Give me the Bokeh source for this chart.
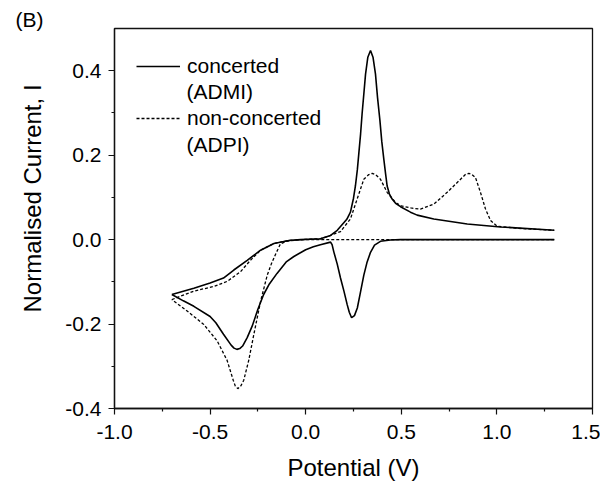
from bokeh.plotting import figure
from bokeh.models import Range1d, Label, Legend, LegendItem, FixedTicker, NumeralTickFormatter, Title
from bokeh.embed import file_html
from bokeh.resources import INLINE

# ---------------- data ----------------
x_ticks = [-1.0, -0.5, 0.0, 0.5, 1.0, 1.5]
x_minor = [-0.75, -0.25, 0.25, 0.75, 1.25]
y_ticks = [-0.4, -0.2, 0.0, 0.2, 0.4]
y_minor = [-0.3, -0.1, 0.1, 0.3]

series_names = ["concerted", "non-concerted"]
series_subnames = ["(ADMI)", "(ADPI)"]

# concerted (ADMI) – forward scan (-0.7 V -> 1.3 V)
concerted_fwd_potential = [
    -0.70, -0.585, -0.50, -0.43, -0.376, -0.306, -0.236, -0.166, -0.088, -0.027,
    0.077, 0.13, 0.165, 0.19, 0.215, 0.234, 0.25, 0.260, 0.27, 0.278,
    0.287, 0.295, 0.304, 0.313, 0.325, 0.339, 0.352, 0.365, 0.376, 0.388,
    0.398, 0.409, 0.418, 0.426, 0.438, 0.452, 0.47, 0.496, 0.548, 0.583,
    0.670, 0.845, 1.019, 1.30,
]
concerted_fwd_current = [
    -0.130, -0.115, -0.103, -0.091, -0.072, -0.049, -0.025, -0.009, -0.002, 0.0,
    0.002, 0.010, 0.022, 0.035, 0.048, 0.065, 0.098, 0.127, 0.165, 0.205,
    0.250, 0.298, 0.345, 0.392, 0.432, 0.448, 0.432, 0.392, 0.335, 0.283,
    0.232, 0.189, 0.155, 0.127, 0.108, 0.096, 0.086, 0.078, 0.065, 0.058,
    0.049, 0.037, 0.030, 0.022,
]
# concerted (ADMI) – reverse scan (1.3 V -> -0.7 V)
concerted_rev_potential = [
    1.30, 0.80, 0.496, 0.443, 0.391, 0.36, 0.339, 0.32, 0.304, 0.285,
    0.270, 0.255, 0.240, 0.228, 0.217, 0.20, 0.182, 0.165, 0.147, 0.138,
    0.130, 0.077, 0.04, 0.0, -0.062, -0.10, -0.15, -0.19, -0.22, -0.25,
    -0.28, -0.306, -0.33, -0.345, -0.36, -0.375, -0.39, -0.43, -0.47, -0.50,
    -0.585, -0.64, -0.70,
]
concerted_rev_current = [
    0.0, 0.0, 0.0, -0.001, -0.004, -0.013, -0.030, -0.055, -0.084, -0.128,
    -0.162, -0.180, -0.185, -0.172, -0.154, -0.122, -0.091, -0.058, -0.029, -0.012,
    -0.006, -0.012, -0.017, -0.024, -0.040, -0.052, -0.080, -0.105, -0.130, -0.165,
    -0.205, -0.232, -0.252, -0.258, -0.260, -0.257, -0.250, -0.224, -0.197, -0.182,
    -0.158, -0.145, -0.130,
]

# non-concerted (ADPI) – forward scan
nonconcerted_fwd_potential = [
    -0.70, -0.585, -0.481, -0.411, -0.341, -0.289, -0.236, -0.166, -0.088, -0.027,
    0.077, 0.13, 0.182, 0.234, 0.269, 0.304, 0.33, 0.348, 0.365, 0.391,
    0.426, 0.470, 0.50, 0.55, 0.60, 0.67, 0.74, 0.81, 0.835, 0.853,
    0.87, 0.888, 0.914, 0.94, 0.967, 1.0, 1.1, 1.3,
]
nonconcerted_fwd_current = [
    -0.142, -0.122, -0.111, -0.099, -0.076, -0.049, -0.025, -0.009, -0.002, 0.0,
    0.002, 0.010, 0.019, 0.049, 0.096, 0.143, 0.154, 0.157, 0.154, 0.143,
    0.112, 0.088, 0.080, 0.075, 0.072, 0.084, 0.112, 0.143, 0.154, 0.157,
    0.154, 0.147, 0.112, 0.073, 0.045, 0.032, 0.027, 0.022,
]
# non-concerted (ADPI) – reverse scan
nonconcerted_rev_potential = [
    1.3, 0.5, 0.0, -0.05, -0.10, -0.132, -0.158, -0.18, -0.201, -0.236,
    -0.271, -0.298, -0.324, -0.34, -0.355, -0.368, -0.379, -0.411, -0.463, -0.533,
    -0.620, -0.70,
]
nonconcerted_rev_current = [
    0.0, 0.0, 0.0, -0.001, -0.004, -0.010, -0.035, -0.058, -0.084, -0.146,
    -0.224, -0.286, -0.333, -0.347, -0.353, -0.347, -0.333, -0.286, -0.240, -0.201,
    -0.169, -0.142,
]

FONT = "Liberation Sans"
INK = "#111111"

p = figure(width=600, height=483,
           min_border_left=114, min_border_right=8, min_border_top=28, min_border_bottom=70,
           x_range=Range1d(-1.0, 1.5), y_range=Range1d(-0.4, 0.5),
           output_backend="svg", toolbar_location=None)

p.grid.visible = False
p.outline_line_color = INK
p.outline_line_width = 1.3
p.background_fill_color = "white"
p.border_fill_color = "white"

p.xaxis.ticker = FixedTicker(ticks=x_ticks, minor_ticks=x_minor)
p.yaxis.ticker = FixedTicker(ticks=y_ticks, minor_ticks=y_minor)
for ax in (p.xaxis, p.yaxis):
    ax.formatter = NumeralTickFormatter(format="0.0")
    ax.major_tick_out = 6
    ax.major_tick_in = 0
    ax.minor_tick_out = 3
    ax.minor_tick_in = 0
    ax.axis_line_color = INK
    ax.axis_line_width = 1.3
    ax.major_tick_line_color = INK
    ax.minor_tick_line_color = INK
    ax.major_tick_line_width = 1.2
    ax.minor_tick_line_width = 1.2
    ax.major_label_text_font = FONT
    ax.major_label_text_font_size = "21px"
    ax.major_label_text_color = "black"
    ax.axis_label_text_font = FONT
    ax.axis_label_text_font_size = "24px"
    ax.axis_label_text_font_style = "normal"
    ax.axis_label_text_color = "black"

p.xaxis.major_label_standoff = 10
p.yaxis.major_label_standoff = 7
p.xaxis.axis_label = "Potential (V)"
p.xaxis.axis_label_standoff = 12
# leading no-break spaces nudge the centred title upwards, as in the reference
p.yaxis.axis_label = "\u00a0" * 6 + "Normalised Current, I"
p.yaxis.axis_label_standoff = 16

r1 = p.multi_line([concerted_fwd_potential, concerted_rev_potential],
                  [concerted_fwd_current, concerted_rev_current],
                  line_color="black", line_width=1.6)
r2 = p.multi_line([nonconcerted_fwd_potential, nonconcerted_rev_potential],
                  [nonconcerted_fwd_current, nonconcerted_rev_current],
                  line_color="black", line_width=1.3, line_dash="3 2")

legend = Legend(items=[LegendItem(label=series_names[0], renderers=[r1]),
                       LegendItem(label=series_names[1], renderers=[r2])],
                location=(22, 278), orientation="vertical",
                glyph_width=44, glyph_height=24, label_height=24, label_standoff=7,
                spacing=28, padding=0, margin=0,
                border_line_alpha=0, background_fill_alpha=0,
                label_text_font=FONT, label_text_font_size="21px", label_text_color="black")
p.add_layout(legend)

for txt, yy in zip(series_subnames, [317, 264]):
    p.add_layout(Label(x=72, y=yy, x_units="screen", y_units="screen", text=txt,
                       text_font=FONT, text_font_size="21px", text_color="black",
                       text_align="left", text_baseline="middle"))

# panel letter
p.add_layout(Title(text="(B)", align="left", offset=-99, standoff=-5,
                   text_font=FONT, text_font_size="21px", text_font_style="normal",
                   text_color="black", vertical_align="bottom"), "above")

open("out.html", "w").write(file_html(p, INLINE))
